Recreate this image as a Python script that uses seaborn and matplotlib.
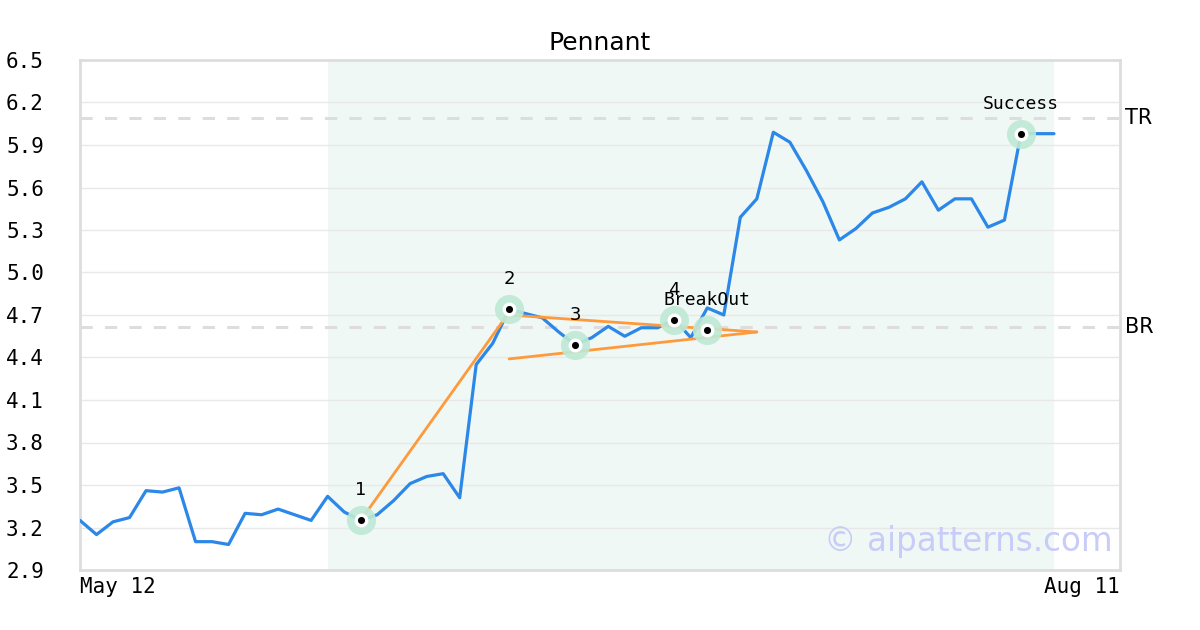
import numpy as np
import pandas as pd
import seaborn as sns
import matplotlib.pyplot as plt

# price series, one value per trading day (May 12 -> Aug 11)
price = [3.25, 3.15, 3.24, 3.27, 3.46, 3.45, 3.48, 3.10, 3.10, 3.08,
         3.30, 3.29, 3.33, 3.29, 3.25, 3.42, 3.31, 3.25, 3.29, 3.39,
         3.51, 3.56, 3.58, 3.41, 4.35, 4.50, 4.74, 4.71, 4.68, 4.58,
         4.49, 4.54, 4.62, 4.55, 4.61, 4.61, 4.67, 4.54, 4.75, 4.70,
         5.39, 5.52, 5.99, 5.92, 5.72, 5.50, 5.23, 5.31, 5.42, 5.46,
         5.52, 5.64, 5.44, 5.52, 5.52, 5.32, 5.37, 5.98, 5.98, 5.98]

# pattern points
pt_idx = [17, 26, 30, 36, 38, 57]
pt_val = [3.25, 4.74, 4.49, 4.665, 4.595, 5.98]
pt_lbl = ["1", "2", "3", "4", "BreakOut", "Success"]

# trend lines (pole, upper, lower)
pole_x, pole_y = [17, 26], [3.25, 4.72]
upper_x, upper_y = [26, 41], [4.70, 4.58]
lower_x, lower_y = [26, 41], [4.39, 4.58]

tr_level = 6.09
br_level = 4.615
shade_start, shade_end = 15, 59
date_labels = ["May 12", "Aug 11"]

df = pd.DataFrame({"day": np.arange(len(price)), "price": price})

sns.set_style("white")
plt.rcParams.update({"text.color": "black", "xtick.color": "black", "ytick.color": "black"})
fig = plt.figure(figsize=(12, 6.3), dpi=100)
ax = fig.add_axes([80/1200, 60/630, 1040/1200, 510/630])

ax.axvspan(shade_start, shade_end, color="#eff8f5", zorder=0, lw=0)
ax.set_ylim(2.9, 6.5)
ax.set_xlim(0, 63)
yt = np.round(np.arange(2.9, 6.51, 0.3), 1)
ax.set_yticks(yt)
ax.set_yticklabels([f"{v:.1f}" for v in yt], family="DejaVu Sans Mono", fontsize=15)
ax.grid(axis="y", color="#e8e8e8", lw=1)
ax.set_axisbelow(True)

for lvl in (tr_level, br_level):
    ax.axhline(lvl, color="#dddddd", lw=2.2, dashes=(4, 4), zorder=1)
ax.text(1.005, (tr_level - 2.9) / 3.6, "TR", transform=ax.transAxes, fontsize=15, va="center")
ax.text(1.005, (br_level - 2.9) / 3.6, "BR", transform=ax.transAxes, fontsize=15, va="center")

sns.lineplot(data=df, x="day", y="price", color="#2b87e8", lw=2.3, ax=ax, zorder=3)

for xs, ys in ((pole_x, pole_y), (upper_x, upper_y), (lower_x, lower_y)):
    ax.plot(xs, ys, color="#ff9a3c", lw=2, zorder=4)

ax.scatter(pt_idx, pt_val, s=440, color="#bfe9d5", lw=0, zorder=5, alpha=0.9)
ax.scatter(pt_idx, pt_val, s=100, color="white", lw=0, zorder=6)
ax.scatter(pt_idx, pt_val, s=26, color="black", lw=0, zorder=7)

for x, y, lbl in zip(pt_idx, pt_val, pt_lbl):
    fam = "DejaVu Sans Mono" if len(lbl) > 1 else "DejaVu Sans"
    ax.annotate(lbl, (x, y), xytext=(0, 30), textcoords="offset pixels",
                ha="center", va="center", fontsize=13, family=fam, zorder=8)

ax.set_xticks([0, 63])
ax.set_xticklabels(date_labels, family="DejaVu Sans Mono", fontsize=15)
xl = ax.get_xticklabels()
xl[0].set_ha("left")
xl[1].set_ha("right")
ax.tick_params(axis="x", length=0, pad=5)
ax.tick_params(axis="y", length=0, pad=26)
ax.set_xlabel("")
ax.set_ylabel("")

for s in ax.spines.values():
    s.set_color("#dddddd")
    s.set_linewidth(2)

ax.set_title("Pennant", fontsize=18, pad=7)
ax.text(0.993, 0.055, "© aipatterns.com", transform=ax.transAxes, ha="right", va="center",
        fontsize=23.5, color="#c8ccf8", zorder=2)

plt.savefig("out.png", dpi=100)
plt.close()
